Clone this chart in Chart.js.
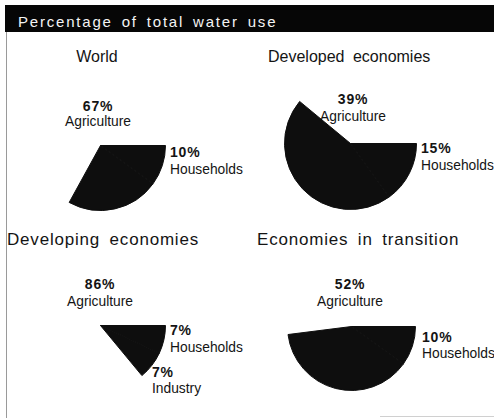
<!DOCTYPE html>
<html>
<head>
<meta charset="utf-8">
<script src="https://cdn.jsdelivr.net/npm/chart.js@4/dist/chart.umd.min.js"></script>
<style>
  html, body { margin: 0; padding: 0; background: #fff; }
  body { width: 494px; height: 418px; overflow: hidden; position: relative;
         font-family: "Liberation Sans", Arial, sans-serif; color: #141414; }
  #bar { position: absolute; left: 5px; top: 5px; width: 489px; height: 27px; background: #060606; }
  #frameLeft { position: absolute; left: 6px; top: 32px; width: 1px; height: 386px; background: #9a9a9a; }
  #frameBottom { position: absolute; left: 380px; top: 416px; width: 114px; height: 1px; background: #d0d0d0; }
  .t { position: absolute; white-space: nowrap; line-height: 1; }
  .title { color: #f4f4f4; font-size: 15px; letter-spacing: 1.8px; word-spacing: 3px; }
  .sub { font-size: 16px; word-spacing: 4px; }
  .sub2 { font-size: 17px; letter-spacing: 0.8px; word-spacing: 4px; }
  .pct { font-size: 14px; font-weight: bold; letter-spacing: 0.8px; }
  .lab { font-size: 13.8px; }
  .c { transform: translateX(-50%); }
  .pie { position: absolute; }
</style>
</head>
<body>
<div id="bar"></div>
<div id="frameLeft"></div>
<div id="frameBottom"></div>
<script>
// Share of total water use by sector, per region (%)
const chartTitle = "Percentage of total water use";
const regions = ["World", "Developed economies", "Developing economies", "Economies in transition"];
const agriculture = [67, 39, 86, 52];
const households = [10, 15, 7, 10];
const industry = [23, 46, 7, 38];
const sectorNames = ["Households", "Industry", "Agriculture"];

// Panel layout: pie centre/radius and label anchors (baselines)
const panels = [
  { cx: 100, cy: 145, r: 65, sub: [97, 63, "c", "sub"], agri: [98, 111, 127], hh: [170, 157, 175], ind: null },
  { cx: 350, cy: 143, r: 66, sub: [268, 63, "l", "sub"], agri: [353, 104, 122], hh: [421, 153, 171], ind: null },
  { cx: 100, cy: 325, r: 65, sub: [7, 245, "l", "sub2"], agri: [100, 289, 307], hh: [170, 335, 353], ind: [152, 377, 394] },
  { cx: 351, cy: 326, r: 64, sub: [257, 245, "l", "sub2"], agri: [350, 289, 307], hh: [422, 342, 359], ind: null }
];

// place a text run so that its baseline lands on y
function addText(text, x, baseline, cls, size, centred) {
  const d = document.createElement("div");
  d.className = "t " + cls + (centred ? " c" : "");
  d.textContent = text;
  d.style.left = x + "px";
  d.style.top = (baseline - Math.round(size * 0.85)) + "px";
  document.body.appendChild(d);
  return d;
}

addText(chartTitle, 18, 27, "title", 15, false);

const DARK = "#0e0e0e";

panels.forEach((p, i) => {
  // region heading
  addText(regions[i], p.sub[0], p.sub[1], p.sub[3], p.sub[3] === "sub" ? 16 : 17, p.sub[2] === "c");

  // sector labels
  addText(agriculture[i] + "%", p.agri[0], p.agri[1], "pct", 14, true);
  addText(sectorNames[2], p.agri[0], p.agri[2], "lab", 14, true);
  addText(households[i] + "%", p.hh[0], p.hh[1], "pct", 14, false);
  addText(sectorNames[0], p.hh[0], p.hh[2], "lab", 14, false);
  if (p.ind) {
    addText(industry[i] + "%", p.ind[0], p.ind[1], "pct", 14, false);
    addText(sectorNames[1], p.ind[0], p.ind[2], "lab", 14, false);
  }

  // the pie itself (one extra pixel leaves room for the 1px slice outline)
  const size = p.r * 2 + 1;
  const holder = document.createElement("div");
  holder.className = "pie";
  holder.style.left = (p.cx - p.r) + "px";
  holder.style.top = (p.cy - p.r) + "px";
  holder.style.width = size + "px";
  holder.style.height = size + "px";
  const cv = document.createElement("canvas");
  cv.width = size; cv.height = size;
  holder.appendChild(cv);
  document.body.appendChild(holder);

  new Chart(cv, {
    type: "pie",
    data: {
      labels: sectorNames,
      datasets: [{
        data: [households[i], industry[i], agriculture[i]],
        backgroundColor: [DARK, DARK, "rgba(255,255,255,0)"],
        borderColor: [DARK, DARK, "rgba(255,255,255,0)"],
        borderWidth: [1, 1, 0],
        hoverOffset: 0
      }]
    },
    options: {
      responsive: false,
      animation: false,
      devicePixelRatio: 1,
      rotation: 90,
      layout: { padding: 0 },
      plugins: { legend: { display: false }, tooltip: { enabled: false } },
      events: []
    }
  });
});
</script>
</body>
</html>
